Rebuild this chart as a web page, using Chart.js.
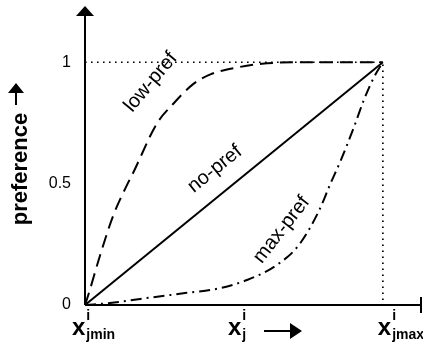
<!DOCTYPE html>
<html>
<head>
<meta charset="utf-8">
<script src="https://cdn.jsdelivr.net/npm/chart.js@4"></script>
<style>
    html, body { margin: 0; padding: 0; background: #fff; }
    #wrap { width: 423px; height: 347px; }
</style>
</head>
<body>
<div id="wrap"><canvas id="prefChart" width="423" height="347"></canvas></div>
<script>
// values (x normalised: 0 = x_jmin, 1 = x_jmax)
const lowX = [0, 0.01, 0.05, 0.094, 0.144, 0.161, 0.242, 0.295, 0.362, 0.423, 0.513, 0.594, 0.75, 1];
const lowY = [0, 0.037, 0.202, 0.366, 0.502, 0.543, 0.749, 0.827, 0.909, 0.951, 0.979, 0.994, 1, 1];
const noX = [0, 1];
const noY = [0, 1];
const maxX = [0, 0.084, 0.185, 0.342, 0.44, 0.544, 0.644, 0.718, 0.785, 0.822, 0.859, 0.903, 0.936, 0.97, 1];
const maxY = [0, 0.008, 0.025, 0.05, 0.066, 0.103, 0.165, 0.247, 0.387, 0.494, 0.597, 0.733, 0.844, 0.938, 1];
const guideX = [0, 1, 1];
const guideY = [1, 1, 0];

const yTicks = [0, 0.5, 1];
const xTicks = [0, 1];
const xTickSubs = ['jmin', 'jmax'];
const curveNames = ['low-pref', 'no-pref', 'max-pref'];

const FONT = 'Liberation Sans, Arial, Helvetica, sans-serif';

function pts(xs, ys) {
    return xs.map((x, i) => ({ x: x, y: ys[i] }));
}

function arrowHead(ctx, tipX, tipY, dirX, dirY, len, half) {
    const bx = tipX - dirX * len, by = tipY - dirY * len;
    ctx.beginPath();
    ctx.moveTo(tipX, tipY);
    ctx.lineTo(bx - dirY * half, by + dirX * half);
    ctx.lineTo(bx + dirY * half, by - dirX * half);
    ctx.closePath();
    ctx.fill();
}

function xLabel(ctx, left, base, sup, sub) {
    ctx.textAlign = 'left';
    ctx.textBaseline = 'alphabetic';
    ctx.font = 'bold 24px ' + FONT;
    ctx.fillText('x', left, base);
    const w = ctx.measureText('x').width;
    ctx.font = 'bold 14px ' + FONT;
    ctx.fillText(sup, left + w + 1, base - 15);
    ctx.fillText(sub, left + w + 1, base + 4);
}

function noPad(s) {
    s.paddingTop = 0;
    s.paddingBottom = 0;
    s.paddingLeft = 0;
    s.paddingRight = 0;
}

const decor = {
    id: 'decor',
    afterDraw(chart) {
        const ctx = chart.ctx;
        const xs = chart.scales.x, ys = chart.scales.y;
        const ca = chart.chartArea;
        const x0 = xs.getPixelForValue(0);
        const y0 = ys.getPixelForValue(0);
        ctx.save();
        ctx.fillStyle = '#000';
        ctx.strokeStyle = '#000';
        ctx.lineWidth = 2;

        // axes
        ctx.beginPath();
        ctx.moveTo(x0, y0);
        ctx.lineTo(x0, ca.top + 10);
        ctx.moveTo(x0, y0);
        ctx.lineTo(ca.right, y0);
        ctx.moveTo(ca.right, y0 - 8);
        ctx.lineTo(ca.right, y0 + 8);
        ctx.stroke();
        arrowHead(ctx, x0, ca.top + 2, 0, -1, 10, 9);

        // curve names
        const spots = [[0.221, 0.918, -50], [0.436, 0.56, -39], [0.66, 0.31, -52]];
        ctx.font = '20px ' + FONT;
        ctx.textAlign = 'center';
        ctx.textBaseline = 'middle';
        curveNames.forEach((name, i) => {
            const s = spots[i];
            ctx.save();
            ctx.translate(xs.getPixelForValue(s[0]), ys.getPixelForValue(s[1]));
            ctx.rotate(s[2] * Math.PI / 180);
            ctx.fillText(name, 0, 0);
            ctx.restore();
        });

        // x tick labels
        const shifts = [-13, -5];
        xTicks.forEach((v, i) => {
            xLabel(ctx, xs.getPixelForValue(v) + shifts[i], 335, 'i', xTickSubs[i]);
        });

        // x title with arrow
        xLabel(ctx, 228, 335, 'i', 'j');
        ctx.lineWidth = 2;
        ctx.beginPath();
        ctx.moveTo(264, 331);
        ctx.lineTo(291, 331);
        ctx.stroke();
        arrowHead(ctx, 302, 331, 1, 0, 12, 8);

        // y title with arrow
        ctx.save();
        ctx.translate(27, 169);
        ctx.rotate(-Math.PI / 2);
        ctx.font = 'bold 22px ' + FONT;
        ctx.textAlign = 'center';
        ctx.textBaseline = 'alphabetic';
        ctx.fillText('preference', 0, 0);
        ctx.restore();
        ctx.beginPath();
        ctx.moveTo(16, 105);
        ctx.lineTo(16, 90);
        ctx.stroke();
        arrowHead(ctx, 16, 83, 0, -1, 10, 8);

        ctx.restore();
    }
};

const line = { borderColor: '#000', pointRadius: 0, fill: false, borderWidth: 2 };

new Chart(document.getElementById('prefChart'), {
    type: 'line',
    data: {
        datasets: [
            { label: 'guide', data: pts(guideX, guideY), borderColor: '#000', pointRadius: 0, fill: false, borderDash: [1.6, 4.4], borderWidth: 1.7, tension: 0 },
            Object.assign({}, line, { label: curveNames[0], data: pts(lowX, lowY), borderDash: [13, 7], cubicInterpolationMode: 'monotone' }),
            Object.assign({}, line, { label: curveNames[1], data: pts(noX, noY) }),
            Object.assign({}, line, { label: curveNames[2], data: pts(maxX, maxY), borderDash: [11, 5, 2, 5], cubicInterpolationMode: 'monotone' })
        ]
    },
    options: {
        responsive: false,
        animation: false,
        devicePixelRatio: 1,
        layout: { padding: { top: 4, right: 2, left: 0, bottom: 0 } },
        plugins: { legend: { display: false }, tooltip: { enabled: false } },
        scales: {
            x: {
                type: 'linear', min: 0, max: 1.128,
                grid: { display: false, drawTicks: false }, border: { display: false },
                ticks: { display: false },
                afterFit: s => { s.height = 42; noPad(s); }
            },
            y: {
                type: 'linear', min: 0, max: 1.24,
                grid: { display: false, drawTicks: false }, border: { display: false },
                afterBuildTicks: s => { s.ticks = yTicks.map(v => ({ value: v })); },
                ticks: { color: '#000', padding: 14, font: { family: FONT, size: 16 }, callback: v => String(v) },
                afterFit: s => { s.width = 85; noPad(s); }
            }
        }
    },
    plugins: [decor]
});
</script>
</body>
</html>
